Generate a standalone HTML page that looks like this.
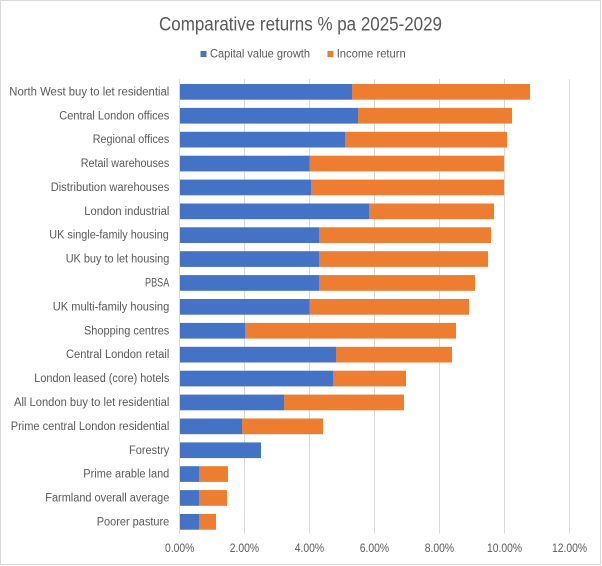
<!DOCTYPE html>
<html>
<head>
<meta charset="utf-8">
<style>
html,body{margin:0;padding:0;background:#fff;}
svg{display:block;}
text{font-family:"Liberation Sans",sans-serif;fill:#595959;}
</style>
</head>
<body>
<svg width="602" height="566" viewBox="0 0 602 566" xmlns="http://www.w3.org/2000/svg">
<rect x="0" y="0" width="602" height="566" fill="#fff"/>
<rect x="0.5" y="0.5" width="600" height="564" fill="none" stroke="#d9d9d9" stroke-width="1"/>

<text x="159" y="30.7" font-size="19" textLength="283" lengthAdjust="spacingAndGlyphs">Comparative returns % pa 2025-2029</text>

<rect x="200.5" y="51" width="6" height="6" fill="#4472C4"/>
<text x="210" y="57.3" font-size="12" textLength="100" lengthAdjust="spacingAndGlyphs">Capital value growth</text>
<rect x="327.5" y="51" width="6" height="6" fill="#ED7D31"/>
<text x="336.7" y="57.3" font-size="12" textLength="69" lengthAdjust="spacingAndGlyphs">Income return</text>

<g stroke="#d9d9d9" stroke-width="1">
<line x1="179.5" y1="79" x2="179.5" y2="533.5"/>
<line x1="244.5" y1="79" x2="244.5" y2="533.5"/>
<line x1="309.5" y1="79" x2="309.5" y2="533.5"/>
<line x1="374.5" y1="79" x2="374.5" y2="533.5"/>
<line x1="439.5" y1="79" x2="439.5" y2="533.5"/>
<line x1="504.5" y1="79" x2="504.5" y2="533.5"/>
<line x1="569.5" y1="79" x2="569.5" y2="533.5"/>
</g>

<g font-size="11.5">
<text x="165" y="552" textLength="29.3" lengthAdjust="spacingAndGlyphs">0.00%</text>
<text x="229.8" y="552" textLength="29.3" lengthAdjust="spacingAndGlyphs">2.00%</text>
<text x="294.8" y="552" textLength="29.3" lengthAdjust="spacingAndGlyphs">4.00%</text>
<text x="359.8" y="552" textLength="29.3" lengthAdjust="spacingAndGlyphs">6.00%</text>
<text x="424.8" y="552" textLength="29.3" lengthAdjust="spacingAndGlyphs">8.00%</text>
<text x="487" y="552" textLength="35" lengthAdjust="spacingAndGlyphs">10.00%</text>
<text x="552" y="552" textLength="35" lengthAdjust="spacingAndGlyphs">12.00%</text>
</g>

<!-- bars: top = 84 + 23.89*i, height 15.7 -->
<g>
<rect x="180" y="84" width="172" height="15.7" fill="#4472C4"/>
<rect x="352" y="84" width="178" height="15.7" fill="#ED7D31"/>

<rect x="180" y="107.9" width="178" height="15.7" fill="#4472C4"/>
<rect x="358" y="107.9" width="154" height="15.7" fill="#ED7D31"/>

<rect x="180" y="131.8" width="165" height="15.7" fill="#4472C4"/>
<rect x="345" y="131.8" width="162" height="15.7" fill="#ED7D31"/>

<rect x="180" y="155.7" width="129.7" height="15.7" fill="#4472C4"/>
<rect x="309.7" y="155.7" width="194.3" height="15.7" fill="#ED7D31"/>

<rect x="180" y="179.6" width="131" height="15.7" fill="#4472C4"/>
<rect x="311" y="179.6" width="193" height="15.7" fill="#ED7D31"/>

<rect x="180" y="203.5" width="189" height="15.7" fill="#4472C4"/>
<rect x="369" y="203.5" width="125" height="15.7" fill="#ED7D31"/>

<rect x="180" y="227.3" width="139" height="15.7" fill="#4472C4"/>
<rect x="319" y="227.3" width="172" height="15.7" fill="#ED7D31"/>

<rect x="180" y="251.2" width="139" height="15.7" fill="#4472C4"/>
<rect x="319" y="251.2" width="169" height="15.7" fill="#ED7D31"/>

<rect x="180" y="275.1" width="139" height="15.7" fill="#4472C4"/>
<rect x="319" y="275.1" width="156" height="15.7" fill="#ED7D31"/>

<rect x="180" y="299" width="129.7" height="15.7" fill="#4472C4"/>
<rect x="309.7" y="299" width="159.3" height="15.7" fill="#ED7D31"/>

<rect x="180" y="322.9" width="65" height="15.7" fill="#4472C4"/>
<rect x="245" y="322.9" width="211" height="15.7" fill="#ED7D31"/>

<rect x="180" y="346.8" width="156" height="15.7" fill="#4472C4"/>
<rect x="336" y="346.8" width="116" height="15.7" fill="#ED7D31"/>

<rect x="180" y="370.7" width="153" height="15.7" fill="#4472C4"/>
<rect x="333" y="370.7" width="73" height="15.7" fill="#ED7D31"/>

<rect x="180" y="394.6" width="104" height="15.7" fill="#4472C4"/>
<rect x="284" y="394.6" width="120" height="15.7" fill="#ED7D31"/>

<rect x="180" y="418.5" width="62" height="15.7" fill="#4472C4"/>
<rect x="242" y="418.5" width="81" height="15.7" fill="#ED7D31"/>

<rect x="180" y="442.4" width="81" height="15.7" fill="#4472C4"/>

<rect x="180" y="466.2" width="19" height="15.7" fill="#4472C4"/>
<rect x="199" y="466.2" width="29" height="15.7" fill="#ED7D31"/>

<rect x="180" y="490.1" width="19" height="15.7" fill="#4472C4"/>
<rect x="199" y="490.1" width="28" height="15.7" fill="#ED7D31"/>

<rect x="180" y="514" width="19" height="15.7" fill="#4472C4"/>
<rect x="199" y="514" width="17" height="15.7" fill="#ED7D31"/>
</g>

<!-- category labels: baseline = 95.4 + 23.89*i -->
<g font-size="11.5">
<text x="9.3" y="95.4" textLength="160" lengthAdjust="spacingAndGlyphs">North West buy to let residential</text>
<text x="59.3" y="119.3" textLength="110" lengthAdjust="spacingAndGlyphs">Central London offices</text>
<text x="92.7" y="143.2" textLength="76.6" lengthAdjust="spacingAndGlyphs">Regional offices</text>
<text x="80.7" y="167.1" textLength="88.6" lengthAdjust="spacingAndGlyphs">Retail warehouses</text>
<text x="50.7" y="191" textLength="118.6" lengthAdjust="spacingAndGlyphs">Distribution warehouses</text>
<text x="84.3" y="214.9" textLength="85" lengthAdjust="spacingAndGlyphs">London industrial</text>
<text x="49.3" y="238.7" textLength="119.5" lengthAdjust="spacingAndGlyphs">UK single-family housing</text>
<text x="65.7" y="262.6" textLength="103.6" lengthAdjust="spacingAndGlyphs">UK buy to let housing</text>
<text x="145" y="286.5" textLength="24.3" lengthAdjust="spacingAndGlyphs">PBSA</text>
<text x="52.7" y="310.4" textLength="116.6" lengthAdjust="spacingAndGlyphs">UK multi-family housing</text>
<text x="84" y="334.3" textLength="85.3" lengthAdjust="spacingAndGlyphs">Shopping centres</text>
<text x="66" y="358.2" textLength="103.3" lengthAdjust="spacingAndGlyphs">Central London retail</text>
<text x="34.3" y="382.1" textLength="135" lengthAdjust="spacingAndGlyphs">London leased (core) hotels</text>
<text x="14" y="406" textLength="155.3" lengthAdjust="spacingAndGlyphs">All London buy to let residential</text>
<text x="10.7" y="429.9" textLength="158.6" lengthAdjust="spacingAndGlyphs">Prime central London residential</text>
<text x="129" y="453.8" textLength="40.3" lengthAdjust="spacingAndGlyphs">Forestry</text>
<text x="83.3" y="477.6" textLength="86" lengthAdjust="spacingAndGlyphs">Prime arable land</text>
<text x="45.3" y="501.5" textLength="124" lengthAdjust="spacingAndGlyphs">Farmland overall average</text>
<text x="96.7" y="525.4" textLength="72.6" lengthAdjust="spacingAndGlyphs">Poorer pasture</text>
</g>
</svg>
</body>
</html>
